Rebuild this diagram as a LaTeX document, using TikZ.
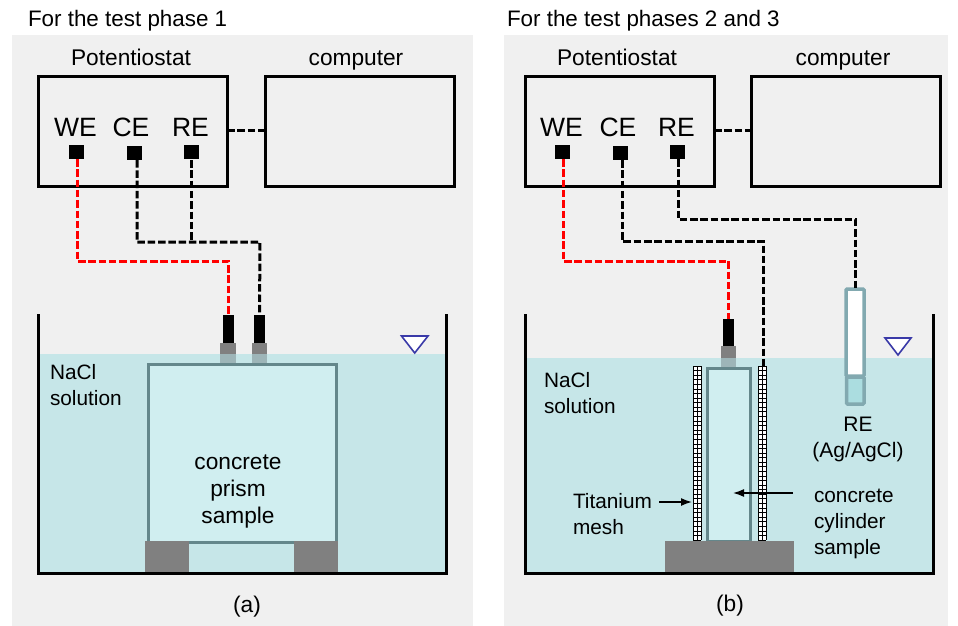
\documentclass[tikz,border=0pt]{standalone}
\usepackage{fontspec}
\setmainfont{Liberation Sans}
\usetikzlibrary{arrows.meta}
\definecolor{panelbg}{HTML}{F0F0F0}
\definecolor{water}{HTML}{C6E6E8}
\definecolor{sample}{HTML}{D0EEF0}
\definecolor{edgeteal}{HTML}{64878B}
\definecolor{tubeteal}{HTML}{82A9B0}
\definecolor{tubefill}{HTML}{ABDDE0}
\definecolor{blockgray}{HTML}{808080}
\definecolor{wetgray}{HTML}{9DB5B8}
\definecolor{levelblue}{HTML}{3A3AA8}
\definecolor{wire}{HTML}{FF0000}
\tikzset{
  box/.style={draw=black,line width=3pt,fill=none,rectangle,inner sep=0,outer sep=0},
  term/.style={fill=black,rectangle,inner sep=0,outer sep=0,minimum width=15pt,minimum height=14pt},
  lab/.style={inner sep=0,outer sep=0,font=\fontsize{22.7}{27}\selectfont,align=center},
  ttl/.style={inner sep=0,outer sep=0,font=\fontsize{22.4}{27}\selectfont},
  small/.style={inner sep=0,outer sep=0,font=\fontsize{20.8}{26}\selectfont,align=left},
  relab/.style={inner sep=0,outer sep=0,font=\fontsize{21}{25.5}\selectfont,align=center},
  big/.style={inner sep=0,outer sep=0,font=\fontsize{26.5}{30}\selectfont},
  wireblack/.style={draw=black,line width=3pt,dash pattern=on 7.5pt off 2.8pt},
  wirered/.style={draw=wire,line width=3pt,dash pattern=on 7.5pt off 2.8pt},
  tank/.style={draw=black,line width=3pt,line join=miter},
  level/.style={draw=levelblue,fill=white,line width=1.6pt,line join=miter},
  specimen/.style={draw=edgeteal,fill=sample,line width=3pt},
  block/.style={fill=blockgray},
  thinarrow/.style={draw=black,line width=1.5pt,-{Latex[length=11pt,width=8pt]}},
}
\newcommand{\meshcol}[3]{% x, ytop, ybottom
  \fill[white] (#1,#2) rectangle (#1+8,#3);
  \foreach \yy in {0,...,38} {
    \pgfmathsetmacro{\yp}{#2+\yy*4.58}
    \draw[black,line width=0.7pt] (#1,\yp) -- (#1+8,\yp);
  }
  \draw[black,line width=1pt] (#1,#2) -- (#1,#3) (#1+4,#2) -- (#1+4,#3) (#1+8,#2) -- (#1+8,#3);
}
\begin{document}
\begin{tikzpicture}[x=1pt,y=-1pt]
\useasboundingbox (0,0) rectangle (958,626);
% panels
\fill[panelbg] (12,35) rectangle (473,626);
\fill[panelbg] (504,35) rectangle (948,626);
% titles
\node[ttl,anchor=west] (titleA) at (28,20.5) {For the test phase 1};
\node[ttl,anchor=west] (titleB) at (507,20.5) {For the test phases 2 and 3};

%%% LEFT PANEL
\fill[water] (38,354) rectangle (446,573);
\node[box,minimum width=189pt,minimum height=110pt] (potA) at (132.5,131) {};
\node[box,minimum width=189pt,minimum height=110pt] (compA) at (359.5,131) {};
\node[lab] (potAl) at (131,57) {Potentiostat};
\node[lab] (compAl) at (356,60.5) {computer};
\node[big] (weA) at (75.5,127) {WE};
\node[big] (ceA) at (131,127) {CE};
\node[big] (reA) at (190.5,127) {RE};
\node[term] (wtA) at (76.5,152) {};
\node[term] (ctA) at (134.5,153) {};
\node[term] (rtA) at (191.5,152) {};
% probes
\fill[wetgray] (220,354) rectangle (236,364);
\fill[wetgray] (252,354) rectangle (267,364);
\fill[blockgray] (220,343) rectangle (236,354);
\fill[blockgray] (252,343) rectangle (267,354);
\node[fill=black,inner sep=0,outer sep=0,minimum width=11pt,minimum height=28pt] (prA1) at (228.5,329) {};
\node[fill=black,inner sep=0,outer sep=0,minimum width=11pt,minimum height=28pt] (prA2) at (259.5,329) {};
% sample
\draw[specimen] (148,364.5) rectangle (336,542);
\fill[block] (145,541) rectangle (189,573);
\fill[block] (294,541) rectangle (338,573);
\draw[tank] (38,314) -- (38,573) -- (446,573) -- (446,314);
\draw[level] (401.5,336) -- (428,336) -- (414.7,353) -- cycle;
\node[small,anchor=west] (naclA) at (50,385) {NaCl\\solution};
\node[lab] (prism) at (238,492) {concrete\\prism\\sample};
\node[lab] (capA) at (247,606.5) {(a)};
% wires
\coordinate (jA1) at (137,242);
\coordinate (jA2) at (191.5,242);
\coordinate (jA3) at (260,242);
\coordinate (jR1) at (77,261);
\coordinate (jR2) at (228.5,261);
\draw[wireblack] (potA.east |- 0,130) -- (compA.west |- 0,130) -- ++(2,0);
\draw[wirered] (77,159) -- (jR1) -- (jR2) -- (prA1.north);
\draw[wireblack] (137,160) -- (jA1) -- (jA2) -- (jA3) -- (prA2.north);
\draw[wireblack] (191.5,160) -- (jA2);

%%% RIGHT PANEL
\fill[water] (525,358) rectangle (933,573);
\node[box,minimum width=189pt,minimum height=110pt] (potB) at (619.5,131) {};
\node[box,minimum width=189pt,minimum height=110pt] (compB) at (845.5,131) {};
\node[lab] (potBl) at (617,57) {Potentiostat};
\node[lab] (compBl) at (843,60.5) {computer};
\node[big] (weB) at (561.5,127) {WE};
\node[big] (ceB) at (618,127) {CE};
\node[big] (reB) at (676.5,127) {RE};
\node[term] (wtB) at (562.5,152) {};
\node[term] (ctB) at (620.5,153) {};
\node[term] (rtB) at (677.5,152) {};
% probe
\fill[wetgray] (721,358) rectangle (736,368);
\fill[blockgray] (721,346) rectangle (736,358);
\node[fill=black,inner sep=0,outer sep=0,minimum width=11pt,minimum height=27pt] (prB) at (728.5,332.5) {};
% cylinder and mesh
\draw[specimen] (707.5,368) rectangle (750.5,541);
\meshcol{693}{366}{540}
\meshcol{758}{366}{540}
\fill[block] (665,541) rectangle (794,574);
\draw[tank] (525,314) -- (525,573) -- (933,573) -- (933,314);
\draw[level] (885,338) -- (911,338) -- (898,355) -- cycle;
% reference electrode
\draw[draw=tubeteal,fill=tubefill,line width=3.5pt,rounded corners=1pt] (846.5,377) rectangle (864,404);
\draw[draw=tubeteal,fill=white,line width=3.5pt,rounded corners=1pt] (846,289) rectangle (864,376);
\coordinate (tubeTop) at (855,288);
% labels
\node[small,anchor=west] (naclB) at (544,393) {NaCl\\solution};
\node[relab] (reLab) at (858,439.5) {RE\\(Ag/AgCl)};
\node[small,anchor=west] (tiLab) at (573,514) {Titanium\\mesh};
\node[small,anchor=west] (cylLab) at (814,523.5) {concrete\\cylinder\\sample};
\node[lab] (capB) at (730,605.5) {(b)};
\coordinate (tiFrom) at (659,502);
\coordinate (tiTo) at (692,502);
\coordinate (cyFrom) at (793,493);
\coordinate (cyTo) at (733,493);
\draw[thinarrow] (tiFrom) -- (tiTo);
\draw[thinarrow] (cyFrom) -- (cyTo);
% wires
\coordinate (kR1) at (563,261);
\coordinate (kR2) at (728.5,261);
\coordinate (kC1) at (622,241);
\coordinate (kC2) at (763,241);
\coordinate (kC3) at (763,366);
\coordinate (kE1) at (678,219);
\coordinate (kE2) at (855,219);
\draw[wireblack] (potB.east |- 0,130) -- (compB.west |- 0,130) -- ++(2,0);
\draw[wirered] (563,159) -- (kR1) -- (kR2) -- (prB.north);
\draw[wireblack] (622,160) -- (kC1) -- (kC2) -- (kC3);
\draw[wireblack] (678,159) -- (kE1) -- (kE2) -- (tubeTop);
\end{tikzpicture}
\end{document}
